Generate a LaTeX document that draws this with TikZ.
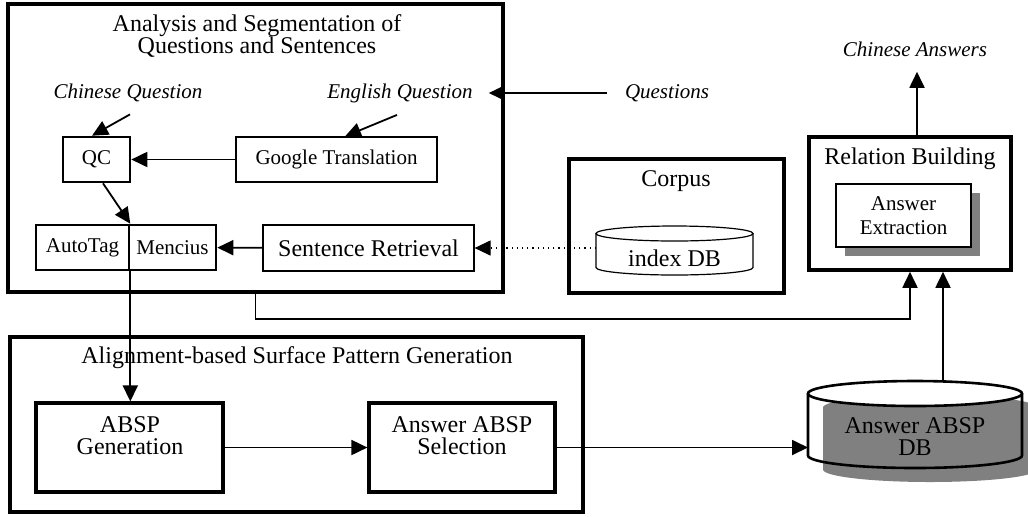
\documentclass[tikz,border=0pt]{standalone}
\usepackage{fontspec}
\setmainfont{Liberation Serif}
\usepackage{tikz}
\usetikzlibrary{arrows.meta,positioning,calc,shadows}
\usepackage{xcolor}
\definecolor{shadowgray}{RGB}{128,128,128}
\tikzset{
  bigbox/.style={draw,line width=1.8pt,inner sep=0pt},
  boldbox/.style={draw,line width=1.3pt,inner sep=0pt,align=center,
                  font=\fontsize{10.5}{12}\selectfont},
  thinbox/.style={draw,line width=0.6pt,inner sep=0pt,
                  font=\fontsize{10.5}{12}\selectfont},
  shadowbox/.style={boldbox,fill=white,
                  drop shadow={shadow xshift=4.5pt,shadow yshift=-4.5pt,
                               fill=shadowgray,opacity=1}},
  ttl/.style={font=\fontsize{12}{11}\selectfont,align=center,inner sep=0pt},
  io/.style={font=\fontsize{10.5}{12}\selectfont\itshape,inner sep=0pt},
  arr/.style={-{Triangle[length=8pt,width=7.5pt]},line width=0.9pt},
}

\begin{document}
\begin{tikzpicture}[x=0.5pt,y=-0.5pt]
    \useasboundingbox (0,0) rectangle (1028,516);
    % analysis and segmentation
    \node[bigbox,minimum width=247.5pt,minimum height=144pt] (asq) at (255.5,148) {};
    \node[ttl] (asqt) at (257,36) {Analysis and Segmentation of\\Questions and Sentences};
    \node[io] (chq) at (128,93) {Chinese Question};
    \node[io] (enq) at (400,93) {English Question};
    \node[io] (qin) at (667,93) {Questions};
    \node[boldbox,minimum width=33.5pt,minimum height=22.5pt] (qc) at (96.5,159.5) {QC};
    \node[thinbox,minimum width=100.5pt,minimum height=22.5pt] (gt) at (336.5,159.5) {Google Translation};
    \node[boldbox,minimum width=46.5pt,minimum height=22.5pt] (atag) at (82.5,247.5) {AutoTag};
    \node[boldbox,minimum width=43.5pt,minimum height=22.5pt] (menc) at (172.5,247.5) {Mencius};
    \node[thinbox,font=\fontsize{12}{14}\selectfont,minimum width=105.5pt,minimum height=23pt] (sret) at (368.5,248) {Sentence Retrieval};
    % corpus
    \node[bigbox,minimum width=107.5pt,minimum height=67pt] (corp) at (676.5,226) {};
    \node[ttl] (corpt) at (676,181) {Corpus};
    \draw[line width=0.6pt] (596,233.5) -- (596,267.5)
      arc[start angle=180,end angle=360,x radius=39.25pt,y radius=3.75pt] -- (753,233.5);
    \draw[line width=0.6pt] (674.5,233.5) ellipse [x radius=39.25pt,y radius=3.75pt];
    \node[ttl] (idx) at (674.5,258) {index DB};
    \coordinate (idxw) at (596,248);
    % relation building
    \node[bigbox,minimum width=101pt,minimum height=66.5pt] (rel) at (910,203.5) {};
    \node[ttl] (relt) at (910,159) {Relation Building};
    \node[shadowbox,minimum width=67.5pt,minimum height=31.5pt] (aext) at (903.5,215.5) {Answer\\Extraction};
    \node[io] (cans) at (915,49) {Chinese Answers};
    % surface pattern generation
    \node[bigbox,minimum width=286.5pt,minimum height=87.5pt] (asp) at (296.5,424.5) {};
    \node[ttl] (aspt) at (297,358) {Alignment-based Surface Pattern Generation};
    \node[bigbox,line width=1.6pt,minimum width=93.5pt,minimum height=44.5pt] (gen) at (129.5,447.5) {};
    \node[ttl] (gent) at (130,436) {ABSP\\Generation};
    \node[bigbox,line width=1.6pt,minimum width=93pt,minimum height=44.5pt] (sel) at (462,447.5) {};
    \node[ttl] (selt) at (462,436) {Answer ABSP\\Selection};
    % answer ABSP DB
    \fill[shadowgray] (823,407.5) -- (823,469.5)
      arc[start angle=180,end angle=360,x radius=53.5pt,y radius=6.25pt] -- (1037,407.5)
      arc[start angle=0,end angle=180,x radius=53.5pt,y radius=6.25pt] -- cycle;
    \draw[line width=1.3pt] (808,393.5) -- (808,455.5)
      arc[start angle=180,end angle=360,x radius=53.5pt,y radius=6.25pt] -- (1022,393.5);
    \draw[line width=1.3pt,fill=white] (915,393.5) ellipse [x radius=53.5pt,y radius=6.25pt];
    \node[ttl] (dbt) at (915,437) {Answer ABSP\\DB};
    \coordinate (dbw) at (808,447.5);
    \coordinate (dbtop) at (943,381.5);
    % connectors
    \draw[arr,shorten <=9pt,shorten >=-8pt] (qin.west) -- (qin.west -| asq.east);
    \draw[arr] ([xshift=1pt,yshift=-6pt]chq.south) -- ([xshift=-2.25pt]qc.north);
    \draw[arr] ([xshift=-1.5pt,yshift=-6pt]enq.south) -- ([xshift=4.25pt]gt.north);
    \draw[arr] (gt) -- (qc);
    \draw[arr] ([xshift=3.25pt]qc.south) -- (atag.north east);
    \draw[arr] (sret) -- (menc);
    \draw[arr,line width=0.6pt,dotted] (idxw) -- (sret.east);
    \draw[arr] (atag.south east) -- (atag.south east |- gen.north);
    \draw[arr] (asq.south) -- ++(0,25) -| (rel.south);
    \draw[arr] (gen) -- (sel);
    \draw[arr] (sel.east) -- (dbw);
    \draw[arr] (dbtop) -- (dbtop |- rel.south);
    \draw[arr,shorten >=7.5pt] ([xshift=3.5pt]rel.north) -- ([xshift=3.5pt]rel.north |- cans.south);
\end{tikzpicture}
\end{document}
